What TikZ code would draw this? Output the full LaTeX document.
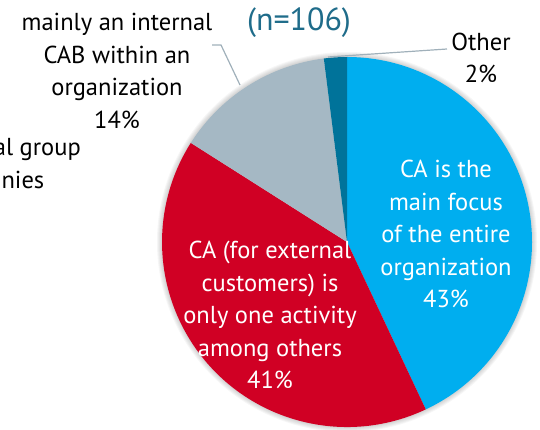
\documentclass[tikz,border=0pt]{standalone}
\usepackage{fontspec}
\setmainfont{PT Sans}
\definecolor{cblue}{RGB}{0,174,239}
\definecolor{cred}{RGB}{208,0,36}
\definecolor{cgray}{RGB}{165,184,196}
\definecolor{cdark}{RGB}{0,115,154}
\definecolor{cteal}{RGB}{31,108,138}
\definecolor{cline}{RGB}{160,176,186}
\begin{document}
\begin{tikzpicture}[x=1pt,y=1pt,
  lab/.style={align=center,font=\fontsize{24.5}{32.5}\selectfont,inner sep=0pt},
  wlab/.style={lab,text=white},
  leader/.style={draw=cline,line width=1.2pt}]
\useasboundingbox (0,0) rectangle (540,429);
\clip (0,0) rectangle (540,429);
\coordinate (C) at (347,187);
% soft shadow
\foreach \i in {1,...,5}{\fill[black,opacity=0.035] (C) circle[radius=185+\i];}
% slices
\fill[cblue] (C) -- ++(90:185) arc[start angle=90,end angle=-64.8,radius=185] -- cycle;
\fill[cred] (C) -- ++(-64.8:185) arc[start angle=-64.8,end angle=-212.4,radius=185] -- cycle;
\fill[cgray] (C) -- ++(147.6:185) arc[start angle=147.6,end angle=97.2,radius=185] -- cycle;
\fill[cdark] (C) -- ++(97.2:185) arc[start angle=97.2,end angle=90,radius=185] -- cycle;
% labels
\node[lab,text=cteal,font=\fontsize{32}{36}\selectfont] (n) at (299,406) {(n=106)};
\node[lab] (l14) at (117,358) {mainly an internal\\CAB within an\\organization\\14\%};
\node[lab] (lo) at (481,371) {Other\\2\%};
\node[lab,anchor=north east] (lg) at (81,291) {for internal group\\companies};
\node[wlab] (l43) at (446,195) {CA is the\\main focus\\of the entire\\organization\\43\%};
\node[wlab] (l41) at (270,114) {CA (for external\\customers) is\\only one activity\\among others\\41\%};
% leaders
\coordinate (a1) at (212,384);
\coordinate (a2) at (221,384);
\coordinate (a3) at (240,344);
\draw[leader] (a1) -- (a2) -- (a3);
\coordinate (b1) at (447,380);
\coordinate (b2) at (328,372);
\draw[leader] (b1) -- (b2);
\end{tikzpicture}
\end{document}
